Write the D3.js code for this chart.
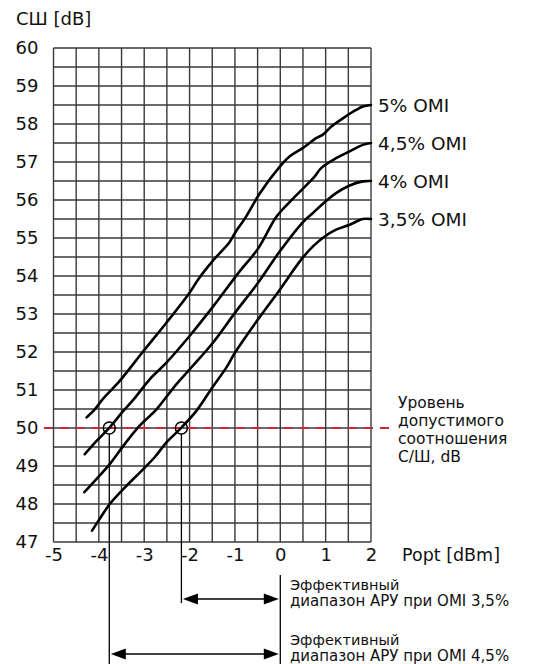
<!DOCTYPE html>
<html>
<head>
<meta charset="utf-8">
<script src="https://cdn.jsdelivr.net/npm/d3@7"></script>
<style>
  html, body { margin: 0; padding: 0; background: #fff; }
  svg { display: block; font-family: "DejaVu Sans", sans-serif; }
</style>
</head>
<body>
<svg id="chart" width="537" height="664"></svg>
<script>
// ---------- data ----------
const xTicks = [-5, -4, -3, -2, -1, 0, 1, 2];
const yTicks = [47, 48, 49, 50, 51, 52, 53, 54, 55, 56, 57, 58, 59, 60];
const seriesNames = ["5% OMI", "4,5% OMI", "4% OMI", "3,5% OMI"];

const x5  = [-4.27, -4.09, -3.9, -3.54, -3.02, -2.51, -2.0, -1.81, -1.48, -1.12, -1.0, -0.75, -0.45, -0.01, 0.21, 0.5, 0.79, 0.94, 1.12, 1.38, 1.67, 1.82, 2.0];
const y5  = [50.28, 50.49, 50.78, 51.24, 52.02, 52.77, 53.56, 53.91, 54.41, 54.89, 55.13, 55.57, 56.18, 56.88, 57.15, 57.37, 57.63, 57.72, 57.93, 58.15, 58.37, 58.46, 58.5];

const x45 = [-4.31, -4.05, -3.78, -3.46, -3.2, -2.88, -2.51, -2.0, -1.48, -0.93, -0.49, -0.09, 0.21, 0.5, 0.76, 0.9, 1.23, 1.53, 1.82, 2.0];
const y45 = [49.31, 49.66, 49.99, 50.45, 50.8, 51.28, 51.72, 52.42, 53.2, 54.07, 54.72, 55.55, 55.95, 56.3, 56.62, 56.84, 57.1, 57.28, 57.45, 57.5];

const x4  = [-4.32, -4.05, -3.76, -3.46, -3.1, -2.73, -2.36, -2.0, -1.48, -1.0, -0.49, -0.01, 0.5, 0.72, 0.94, 1.23, 1.53, 1.82, 2.0];
const y4  = [48.31, 48.66, 49.05, 49.53, 50.06, 50.49, 51.05, 51.54, 52.25, 53.03, 53.82, 54.65, 55.42, 55.66, 55.9, 56.18, 56.38, 56.49, 56.5];

const x35 = [-4.15, -3.98, -3.76, -3.39, -3.02, -2.77, -2.51, -2.18, -1.85, -1.48, -1.19, -1.0, -0.49, -0.01, 0.46, 0.72, 0.98, 1.23, 1.53, 1.82, 2.0];
const y35 = [47.3, 47.61, 48.0, 48.48, 48.92, 49.23, 49.62, 50.01, 50.45, 51.1, 51.59, 51.98, 52.86, 53.64, 54.43, 54.78, 55.04, 55.22, 55.35, 55.5, 55.5];

const thresholdSNR = 50;
const crossings = [-3.77, -2.18];       // where 4,5% and 3,5% curves meet threshold
const rangeEnd = 0;                      // upper end of AGC range (dBm)
const rangeLabels = [
  ["Эффективный", "диапазон АРУ при OMI 3,5%"],
  ["Эффективный", "диапазон АРУ при OMI 4,5%"]
];
const levelLabel = ["Уровень", "допустимого", "соотношения", "С/Ш, dB"];

// ---------- layout ----------
const svg = d3.select("#chart");
const x = d3.scaleLinear().domain([-5, 2]).range([53.5, 371]);
const y = d3.scaleLinear().domain([47, 60]).range([542, 48]);
const gridColor = "#3a3a3a";
const ink = "#111";

// grid
const g = svg.append("g");
g.selectAll("line.v").data(d3.range(-5, 2.001, 0.5)).join("line")
  .attr("x1", d => x(d)).attr("x2", d => x(d))
  .attr("y1", y(47)).attr("y2", y(60))
  .attr("stroke", gridColor).attr("stroke-width", 1.4);
g.selectAll("line.h").data(d3.range(47, 60.001, 0.5)).join("line")
  .attr("x1", x(-5)).attr("x2", x(2))
  .attr("y1", d => y(d)).attr("y2", d => y(d))
  .attr("stroke", gridColor).attr("stroke-width", 1.4);

// axes
const yAxis = svg.append("g").attr("transform", `translate(${x(-5)},0)`)
  .call(d3.axisLeft(y).tickValues(yTicks).tickSize(0).tickPadding(15).tickFormat(d => String(d)));
yAxis.select(".domain").remove();
yAxis.selectAll("text").attr("font-size", 18).attr("font-family", "DejaVu Sans").attr("fill", ink);

const xAxis = svg.append("g").attr("transform", `translate(0,${y(47)})`)
  .call(d3.axisBottom(x).tickValues(xTicks).tickSize(0).tickPadding(6).tickFormat(d => String(d)));
xAxis.select(".domain").remove();
xAxis.selectAll("text").attr("font-size", 18).attr("font-family", "DejaVu Sans").attr("fill", ink);

svg.append("text").attr("x", 16).attr("y", 25).attr("font-size", 18).attr("fill", ink).text("СШ [dB]");
svg.append("text").attr("x", 402).attr("y", 561).attr("font-size", 17.5).attr("fill", ink).text("Popt [dBm]");

// threshold dashed line
svg.append("line")
  .attr("x1", 44).attr("x2", 390)
  .attr("y1", y(thresholdSNR)).attr("y2", y(thresholdSNR))
  .attr("stroke", "#c8283a").attr("stroke-width", 2).attr("stroke-dasharray", "9,7");

levelLabel.forEach((t, i) =>
  svg.append("text").attr("x", 398).attr("y", 408 + i * 18)
    .attr("font-size", 15.5).attr("fill", ink).text(t));

// curves
const series = [[x5, y5], [x45, y45], [x4, y4], [x35, y35]];
const line = d3.line().x(d => x(d[0])).y(d => y(d[1])).curve(d3.curveCatmullRom.alpha(0.5));
series.forEach(([xs, ys], i) => {
  const pts = xs.map((v, j) => [v, ys[j]]);
  svg.append("path").attr("d", line(pts)).attr("fill", "none")
    .attr("stroke", "#000").attr("stroke-width", 2.6).attr("stroke-linecap", "round");
  svg.append("text").attr("x", 378).attr("y", y(ys[ys.length - 1]) + 1)
    .attr("dy", "0.35em").attr("font-size", 18.5).attr("fill", ink).text(seriesNames[i]);
});

// crossing markers + range annotations
const arrowY = [599, 654];
const dropEnd = [603, 664];
crossings.slice().reverse().forEach((c, k) => {
  // k=0 -> 3,5% (upper arrow), k=1 -> 4,5% (lower arrow)
  svg.append("circle").attr("cx", x(c)).attr("cy", y(thresholdSNR)).attr("r", 6)
    .attr("fill", "none").attr("stroke", "#000").attr("stroke-width", 1.5);
  svg.append("line").attr("x1", x(c)).attr("x2", x(c))
    .attr("y1", y(thresholdSNR) + 6).attr("y2", dropEnd[k])
    .attr("stroke", "#000").attr("stroke-width", 1.3);
  const ay = arrowY[k];
  const xa = x(c) + 1.5, xb = x(rangeEnd) - 1.5;
  svg.append("line").attr("x1", xa + 10).attr("x2", xb - 10).attr("y1", ay).attr("y2", ay)
    .attr("stroke", "#000").attr("stroke-width", 1.6);
  svg.append("path").attr("d", `M${xa},${ay}L${xa + 15},${ay - 5.5}L${xa + 15},${ay + 5.5}Z`).attr("fill", "#000");
  svg.append("path").attr("d", `M${xb},${ay}L${xb - 15},${ay - 5.5}L${xb - 15},${ay + 5.5}Z`).attr("fill", "#000");
  rangeLabels[k].forEach((s, i) =>
    svg.append("text").attr("x", 290).attr("y", ay - 9 + i * 16)
      .attr("font-size", i === 0 ? 14.5 : 15).attr("fill", ink).text(s));
});
svg.append("line").attr("x1", x(rangeEnd)).attr("x2", x(rangeEnd)).attr("y1", 575).attr("y2", 664)
  .attr("stroke", "#000").attr("stroke-width", 1.3);
</script>
</body>
</html>
